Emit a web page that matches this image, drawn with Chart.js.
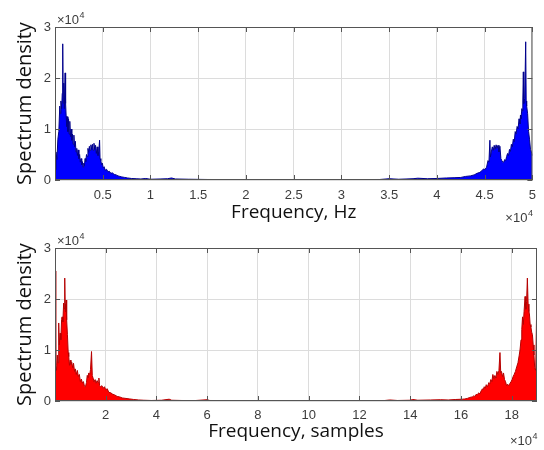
<!DOCTYPE html>
<html>
<head>
<meta charset="utf-8">
<script src="https://cdn.jsdelivr.net/npm/chart.js@4/dist/chart.umd.min.js"></script>
<style>
  body { margin: 0; background: #fff; }
  .wrap { position: absolute; left: 0; width: 544px; height: 225px; }
</style>
</head>
<body>
<div class="wrap" style="top:0"><canvas id="hzChart" width="544" height="225"></canvas></div>
<div class="wrap" style="top:225px"><canvas id="smpChart" width="544" height="225"></canvas></div>
<script>
// top plot: frequency in Hz vs spectrum density
const hzFreq = [
  0, 100, 200, 300, 400, 500, 560, 620, 700, 760,
  810, 860, 920, 980, 1060, 1110, 1170, 1230, 1290, 1350,
  1420, 1480, 1550, 1620, 1690, 1760, 1830, 1900, 1980, 2050,
  2130, 2200, 2280, 2350, 2430, 2500, 2580, 2650, 2730, 2800,
  2870, 2940, 3010, 3080, 3150, 3220, 3300, 3380, 3450, 3530,
  3600, 3680, 3760, 3840, 3920, 4000, 4080, 4160, 4250, 4330,
  4420, 4500, 4580, 4670, 4720, 4800, 4880, 4960, 5050, 5150,
  5250, 5400, 5550, 5700, 5850, 6000, 6200, 6400, 6600, 6800,
  7000, 7300, 7600, 8000, 8500, 9000, 9500, 10000, 11000, 11800,
  12200, 12600, 14000, 16000, 20000, 25000, 30000, 34000, 35000, 36000,
  37500, 38000, 39000, 40000, 41000, 41800, 42500, 43000, 43500, 43900,
  44200, 44500, 44700, 44900, 45000, 45200, 45350, 45450, 45550, 45600,
  45700, 45800, 45900, 46000, 46100, 46200, 46300, 46400, 46500, 46600,
  46700, 46800, 46900, 47000, 47100, 47200, 47300, 47400, 47500, 47600,
  47700, 47800, 47900, 48000, 48100, 48200, 48300, 48400, 48500, 48600,
  48700, 48750, 48800, 48900, 48950, 49000, 49050, 49100, 49200, 49300,
  49350, 49400, 49500, 49600, 49700, 49800, 49900, 50000
];
const hzDensity = [
  2000, 5500, 4000, 8000, 9500, 14500, 13000, 15500, 14000, 17000,
  26700, 15000, 19000, 14000, 21000, 15000, 12500, 10500, 12400, 9500,
  12000, 9000, 11500, 8500, 10000, 7800, 9000, 7000, 8800, 6500,
  7600, 5500, 6200, 4800, 5900, 4200, 5000, 3500, 4200, 3000,
  3600, 2500, 3300, 2800, 4200, 3600, 5000, 4600, 6200, 5400,
  6600, 5800, 6900, 6000, 7000, 5800, 7200, 6000, 6800, 5200,
  6500, 4800, 5500, 7800, 4200, 3800, 3000, 3300, 2400, 2600,
  1900, 2100, 1600, 1700, 1300, 1400, 1100, 1000, 800, 700,
  600, 500, 400, 300, 250, 200, 300, 150, 200, 250,
  400, 200, 150, 100, 80, 60, 80, 100, 250, 150,
  250, 350, 250, 300, 400, 450, 500, 700, 800, 1000,
  1300, 1500, 1800, 2200, 2000, 2500, 3800, 3500, 7800, 4500,
  5500, 6500, 5800, 6800, 6000, 6900, 6200, 6800, 5500, 6600,
  4200, 3800, 3500, 3500, 4000, 3800, 4600, 5200, 4800, 6000,
  5600, 7000, 6500, 8000, 7500, 9500, 9000, 10500, 10000, 12000,
  11000, 12700, 12000, 14000, 13500, 15500, 21200, 15000, 16000, 27100,
  15500, 14500, 13000, 9500, 8000, 6000, 5500, 4800
];

// bottom plot: frequency in samples vs spectrum density
const smpIndex = [
  0, 300, 600, 900, 1200, 1460, 1700, 2000, 2300, 2600,
  2800, 3100, 3400, 3700, 3840, 4000, 4200, 4390, 4600, 4900,
  5200, 5420, 5700, 6000, 6300, 6600, 7000, 7300, 7700, 8000,
  8400, 8800, 9200, 9600, 10000, 10400, 10800, 11200, 11600, 12000,
  12400, 12700, 13000, 13300, 13700, 14000, 14400, 14700, 15000, 15400,
  15800, 16200, 16600, 17000, 17300, 17600, 18000, 18500, 19000, 19500,
  20000, 20600, 21200, 22000, 22800, 23500, 24500, 25500, 26500, 28000,
  29500, 31000, 33000, 35000, 38000, 42000, 45000, 46000, 50000, 55000,
  60000, 61000, 70000, 90000, 110000, 130000, 132000, 135000, 140000, 141000,
  143000, 148000, 152000, 155000, 158000, 160500, 161500, 162500, 163500, 164500,
  165000, 165500, 166000, 166500, 167000, 167500, 168000, 168500, 168800, 169200,
  169600, 170000, 170500, 171000, 171400, 171800, 172200, 172600, 173000, 173400,
  173800, 174200, 174600, 175000, 175400, 175700, 176000, 176400, 176800, 177200,
  177600, 178000, 178400, 178800, 179400, 179800, 180200, 180600, 181000, 181500,
  182000, 182500, 183000, 183300, 183700, 184000, 184300, 184600, 184900, 185300,
  185600, 185900, 186200, 186500, 186800, 187000, 187300, 187600, 187900, 188200,
  188500, 188800, 189100, 189500, 189800, 190000
];
const smpDensity = [
  25500, 7000, 6000, 9000, 7500, 15300, 11000, 13300, 12000, 16000,
  16500, 15500, 19200, 18000, 24100, 19000, 17500, 19800, 15900, 13000,
  9500, 8700, 7000, 8000, 7200, 7600, 6500, 7400, 5800, 6300,
  5200, 6000, 4800, 5200, 3800, 4300, 3500, 3800, 2900, 2800,
  3600, 5000, 4600, 5500, 5200, 6200, 9700, 5000, 4500, 3800,
  4200, 3500, 4000, 3600, 4500, 3000, 2800, 3000, 2500, 2800,
  2200, 2400, 1700, 1600, 1300, 1200, 900, 800, 600, 500,
  400, 300, 200, 150, 100, 150, 350, 150, 100, 80,
  250, 100, 80, 60, 60, 100, 200, 100, 150, 300,
  150, 200, 250, 200, 300, 350, 400, 500, 700, 800,
  1000, 900, 1300, 1200, 1600, 1400, 2000, 2400, 2200, 2800,
  2500, 3200, 2800, 3600, 3400, 4200, 3800, 5200, 4400, 5000,
  4500, 5800, 5200, 6000, 9500, 5500, 5800, 4800, 5500, 4200,
  3800, 3000, 3300, 3000, 3500, 3800, 4200, 4800, 5200, 5800,
  6700, 7500, 9000, 10000, 12000, 14000, 16500, 15000, 17500, 20500,
  18000, 19500, 24100, 19000, 17500, 17200, 15000, 14500, 13500, 13000,
  11000, 9000, 6500, 6000, 16000, 15000
];

const densityTicks = [0, 10000, 20000, 30000];
const hzTicks = [5000, 10000, 15000, 20000, 25000, 30000, 35000, 40000, 45000, 50000];
const smpTicks = [20000, 40000, 60000, 80000, 100000, 120000, 140000, 160000, 180000];

const TICK_FONT = { family: '"Liberation Sans", Arial, sans-serif', size: 13 };
const TITLE_FAMILY = '"Open Sans", "Noto Sans", sans-serif';
const TICK_COLOR = '#3c3c3c';

function drawExp(ctx, x, y, alignRight) {
  ctx.font = '13px "Liberation Sans", Arial, sans-serif';
  const w1 = ctx.measureText('\u00d710').width;
  ctx.font = '9px "Liberation Sans", Arial, sans-serif';
  const w2 = ctx.measureText('4').width;
  let sx = alignRight ? x - w1 - w2 : x;
  ctx.font = '13px "Liberation Sans", Arial, sans-serif';
  ctx.fillText('\u00d710', sx, y);
  ctx.font = '9px "Liberation Sans", Arial, sans-serif';
  ctx.fillText('4', sx + w1 + 0.5, y - 6);
}

const boxPlugin = {
  id: 'box',
  afterDraw(chart) {
    const { ctx, chartArea: a, scales } = chart;
    ctx.save();
    ctx.strokeStyle = '#555';
    ctx.lineWidth = 1;
    ctx.strokeRect(a.left + 0.5, a.top + 0.5, a.right - a.left - 1, a.bottom - a.top - 1);
    ctx.beginPath();
    scales.x.ticks.forEach(t => {
      const px = Math.round(scales.x.getPixelForValue(t.value)) + 0.5;
      ctx.moveTo(px, a.bottom); ctx.lineTo(px, a.bottom - 5);
      ctx.moveTo(px, a.top); ctx.lineTo(px, a.top + 5);
    });
    scales.y.ticks.forEach(t => {
      const py = Math.round(scales.y.getPixelForValue(t.value)) + 0.5;
      ctx.moveTo(a.left, py); ctx.lineTo(a.left + 5, py);
      ctx.moveTo(a.right, py); ctx.lineTo(a.right - 5, py);
    });
    ctx.stroke();
    ctx.fillStyle = TICK_COLOR;
    ctx.textBaseline = 'alphabetic';
    ctx.textAlign = 'left';
    drawExp(ctx, a.left + 2, a.top - 3, false);
    drawExp(ctx, a.right, a.bottom + chart.options.expOffset, true);
    ctx.restore();
  }
};

function makeChart(id, xs, ys, xTicks, xMax, title, color, edge, cfg) {
  const ctx = document.getElementById(id).getContext('2d');
  return new Chart(ctx, {
    type: 'line',
    data: {
      datasets: [{
        data: xs.map((x, i) => ({ x: x, y: ys[i] })),
        borderColor: edge,
        backgroundColor: color,
        borderWidth: 1,
        pointRadius: 0,
        tension: 0,
        fill: 'origin'
      }]
    },
    plugins: [boxPlugin],
    options: {
      responsive: false,
      animation: false,
      devicePixelRatio: 1,
      expOffset: cfg.expOffset,
      layout: { padding: { left: 0, right: 7, top: cfg.top, bottom: 0 } },
      plugins: { legend: { display: false }, tooltip: { enabled: false } },
      scales: {
        x: {
          type: 'linear',
          min: 0,
          max: xMax,
          afterBuildTicks: s => { s.ticks = xTicks.map(v => ({ value: v })); },
          afterFit: s => { s.height = cfg.xHeight; },
          grid: { color: '#dcdcdc', drawTicks: false },
          border: { display: false },
          ticks: {
            font: TICK_FONT, color: TICK_COLOR, padding: cfg.tickPad,
            maxRotation: 0, autoSkip: false,
            callback: v => String(v / 10000)
          },
          title: {
            display: true, text: title, color: '#111',
            font: { family: TITLE_FAMILY, size: 19 },
            padding: { top: 0, bottom: cfg.titlePad }
          }
        },
        y: {
          min: 0,
          max: 30000,
          afterBuildTicks: s => { s.ticks = densityTicks.map(v => ({ value: v })); },
          afterFit: s => { s.width = 55; },
          grid: { color: '#dcdcdc', drawTicks: false },
          border: { display: false },
          ticks: {
            font: TICK_FONT, color: TICK_COLOR, padding: 4,
            callback: v => String(v / 10000)
          },
          title: {
            display: true, text: 'Spectrum density', color: '#111',
            font: { family: TITLE_FAMILY, size: 20 },
            padding: { top: 13, bottom: 0 }
          }
        }
      }
    }
  });
}

makeChart('hzChart', hzFreq, hzDensity, hzTicks, 50000, 'Frequency, Hz', '#0000ff', '#00008b',
  { top: 27, xHeight: 45, tickPad: 8, titlePad: 1, expOffset: 42 });
makeChart('smpChart', smpIndex, smpDensity, smpTicks, 190000, 'Frequency, samples', '#ff0000', '#b40000',
  { top: 23, xHeight: 49, tickPad: 7, titlePad: 7, expOffset: 44 });
</script>
</body>
</html>
